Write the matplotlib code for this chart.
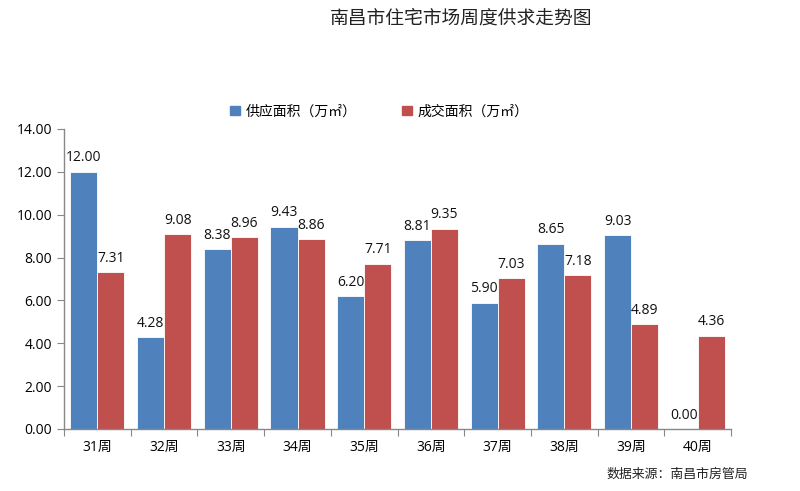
import numpy as np
import matplotlib
matplotlib.use("Agg")
from matplotlib import pyplot as plt
from matplotlib.patches import Patch

plt.rcParams['font.family'] = ['Open Sans', 'Noto Sans CJK SC', 'DejaVu Sans']

weeks = ['31周', '32周', '33周', '34周', '35周', '36周', '37周', '38周', '39周', '40周']
supply = [12.00, 4.28, 8.38, 9.43, 6.20, 8.81, 5.90, 8.65, 9.03, 0.00]
deal = [7.31, 9.08, 8.96, 8.86, 7.71, 9.35, 7.03, 7.18, 4.89, 4.36]

blue = '#4F81BD'
red = '#C0504D'
axis_grey = '#888888'

fig = plt.figure(figsize=(8, 4.91), dpi=100)
ax = fig.add_axes([0.08, 0.1263, 0.834, 0.611])

x = np.arange(len(weeks))
w = 0.405
b1 = ax.bar(x - w / 2, supply, w, color=blue, edgecolor='white', linewidth=0.6)
b2 = ax.bar(x + w / 2, deal, w, color=red, edgecolor='white', linewidth=0.6)

for bars, vals in ((b1, supply), (b2, deal)):
    for r, v in zip(bars, vals):
        ax.text(r.get_x() + r.get_width() / 2, v + 0.3, f'{v:.2f}',
                ha='center', va='bottom', fontsize=10, color='#111111')

ax.set_xlim(-0.5, len(weeks) - 0.5)
ax.set_ylim(0, 14)
ax.set_yticks(np.arange(0, 15, 2))
ax.set_yticklabels([f'{v:.2f}' for v in np.arange(0, 15, 2)], fontsize=10)
ax.set_xticks(np.arange(-0.5, len(weeks), 1))
ax.set_xticklabels([])
ax.set_xticks(x, minor=True)
ax.set_xticklabels(weeks, minor=True, fontsize=10)
ax.tick_params(axis='x', which='minor', length=0, pad=8)
ax.tick_params(axis='x', which='major', length=5, color=axis_grey)
ax.tick_params(axis='y', length=5, color=axis_grey)

for s in ('top', 'right'):
    ax.spines[s].set_visible(False)
for s in ('left', 'bottom'):
    ax.spines[s].set_color(axis_grey)
    ax.spines[s].set_linewidth(1)

fig.text(0.576, 0.962, '南昌市住宅市场周度供求走势图', ha='center', va='center',
         fontsize=13.5, color='#222222')

handles = [Patch(color=blue, label='供应面积（万㎡）'),
           Patch(color=red, label='成交面积（万㎡）')]
fig.legend(handles=handles, loc='center', bbox_to_anchor=(0.474, 0.772), ncol=2,
           frameon=False, fontsize=10, handlelength=0.7, handleheight=0.7,
           handletextpad=0.4, columnspacing=3.3)

fig.text(0.935, 0.035, '数据来源：南昌市房管局', ha='right', va='center',
         fontsize=9.3, color='#222222')

fig.savefig('out.png', dpi=100)
